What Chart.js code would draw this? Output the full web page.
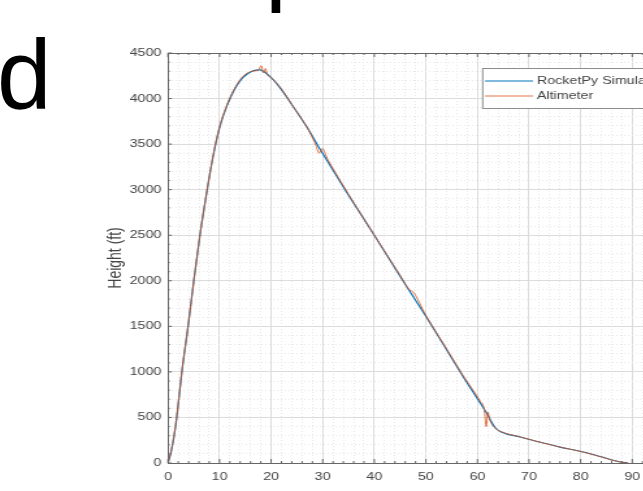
<!DOCTYPE html>
<html>
<head>
<meta charset="utf-8">
<script src="https://cdn.jsdelivr.net/npm/chart.js@4.4.1/dist/chart.umd.min.js"></script>
<style>
  html, body { margin: 0; padding: 0; width: 643px; height: 491px; overflow: hidden; background: #fff; }
  .big { position: absolute; font-family: "Liberation Sans", Arial, sans-serif; font-size: 98px; line-height: 1; color: #000; }
  #wrap { position: absolute; left: 0; top: 0; width: 560px; height: 491px; transform: scaleX(1.3); transform-origin: 0 0; filter: blur(0.55px); }
</style>
</head>
<body>
<div class="big" style="left:-3px; top:25px;">d</div>
<div class="big" style="left:265px; top:-90px;">p</div>
<div id="wrap"><canvas id="chart" width="560" height="491"></canvas></div>
<script>
// data (time in s, height in ft)
const simTime   = [0, 0.6, 1.2, 1.7, 2.7, 3.9, 5.0, 6.2, 7.6, 8.7, 10.0, 11.5, 13.0, 14.5, 16.3, 17.8, 19.8, 21.7, 24.3, 26.9, 29.1, 35, 40, 45, 50, 54.7, 57.2, 61.8, 63.4, 64.6, 68.3, 72, 76, 80.5, 84, 87.7, 89.2];
const simHeight = [0, 120, 300, 500, 1000, 1500, 2000, 2500, 3000, 3350, 3680, 3930, 4110, 4230, 4300, 4315, 4240, 4120, 3910, 3690, 3480, 2940, 2500, 2050, 1610, 1180, 950, 545, 390, 340, 285, 230, 175, 121, 68, 11, 0];

const altTime   = [0, 0.6, 1.2, 1.7, 2.7, 3.9, 5.0, 6.2, 7.6, 8.7, 10.0, 11.5, 13.0, 14.5, 16.3, 17.5, 18.1, 18.5, 18.9, 19.3, 20.0, 21.8, 24.4, 26.8, 28.6, 29.3, 29.9, 31, 35, 40, 45, 46.8, 47.5, 50, 54.7, 57.2, 60.5, 61.3, 61.7, 62.0, 62.4, 63.5, 64.8, 68.3, 72, 76, 80.5, 84, 87.7, 89.2];
const altHeight = [0, 130, 310, 510, 1010, 1500, 1990, 2500, 3000, 3360, 3690, 3940, 4120, 4240, 4300, 4310, 4360, 4280, 4330, 4260, 4230, 4120, 3900, 3700, 3500, 3400, 3450, 3330, 2950, 2500, 2060, 1900, 1880, 1620, 1190, 960, 680, 590, 400, 560, 470, 380, 340, 286, 230, 174, 120, 66, 10, 0];

const xTicks = [0, 10, 20, 30, 40, 50, 60, 70, 80, 90, 100];
const yTicks = [0, 500, 1000, 1500, 2000, 2500, 3000, 3500, 4000, 4500];
const xMinorTicks = [];
for (let i = 0; i <= 100; i += 2) xMinorTicks.push(i);
const yMinorTicks = [];
for (let i = 0; i <= 4500; i += 100) yMinorTicks.push(i);

const seriesLabels = ['RocketPy Simulation', 'Altimeter'];

const font = "'Liberation Sans', Arial, sans-serif";
const axisColor = '#666';
const textColor = '#444';

function toPoints(xs, ys) {
    return xs.map((x, i) => ({ x: x, y: ys[i] }));
}

// matlab-like inward tick marks and top box line
const boxTicks = {
    id: 'boxTicks',
    afterDraw(chart) {
        const { ctx, chartArea: a, scales } = chart;
        ctx.save();
        ctx.strokeStyle = axisColor;
        ctx.lineWidth = 1;
        ctx.beginPath();
        ctx.moveTo(a.left, a.top + 0.5);
        ctx.lineTo(a.right, a.top + 0.5);
        scales.xMinor.ticks.forEach(t => {
            const px = scales.xMinor.getPixelForValue(t.value);
            const len = t.value % 10 === 0 ? 4 : 2;
            ctx.moveTo(px, a.bottom);
            ctx.lineTo(px, a.bottom - len);
            ctx.moveTo(px, a.top);
            ctx.lineTo(px, a.top + len);
        });
        scales.yMinor.ticks.forEach(t => {
            const py = scales.yMinor.getPixelForValue(t.value);
            const len = t.value % 500 === 0 ? 3 : 1.5;
            ctx.moveTo(a.left, py);
            ctx.lineTo(a.left + len, py);
        });
        ctx.stroke();
        ctx.restore();
    }
};

// boxed legend inside the axes, top right
const boxLegend = {
    id: 'boxLegend',
    afterDraw(chart) {
        const { ctx, chartArea: a } = chart;
        const x0 = a.left + 241.6;
        const y0 = 68;
        ctx.save();
        ctx.fillStyle = '#fff';
        ctx.fillRect(x0, y0, 200, 40);
        ctx.strokeStyle = '#8c8c8c';
        ctx.lineWidth = 1;
        ctx.strokeRect(x0 + 0.5, y0 + 0.5, 200, 40);
        ctx.font = '11px ' + font;
        ctx.textBaseline = 'middle';
        chart.data.datasets.forEach((ds, i) => {
            const y = y0 + 13 + i * 15;
            ctx.strokeStyle = ds.borderColor;
            ctx.lineWidth = 1;
            ctx.beginPath();
            ctx.moveTo(x0 + 2.3, y);
            ctx.lineTo(x0 + 39.2, y);
            ctx.stroke();
            ctx.fillStyle = textColor;
            ctx.fillText(ds.label, x0 + 42.2, y);
        });
        ctx.restore();
    }
};

new Chart('chart', {
    type: 'line',
    data: {
        datasets: [
            {
                label: seriesLabels[0],
                data: toPoints(simTime, simHeight),
                borderColor: '#0072BD',
                borderWidth: 1.2,
                pointRadius: 0,
                cubicInterpolationMode: 'monotone',
                fill: false,
                order: 1
            },
            {
                label: seriesLabels[1],
                data: toPoints(altTime, altHeight),
                borderColor: 'rgba(217, 83, 25, 0.8)',
                borderWidth: 1,
                pointRadius: 0,
                cubicInterpolationMode: 'monotone',
                fill: false,
                order: 0
            }
        ]
    },
    options: {
        responsive: false,
        animation: false,
        devicePixelRatio: 1,
        layout: { padding: { left: 76.5, top: 53, right: 34, bottom: 0 } },
        plugins: {
            legend: { display: false },
            tooltip: { enabled: false }
        },
        scales: {
            x: {
                type: 'linear',
                position: 'bottom',
                min: 0,
                max: 100,
                afterBuildTicks: s => { s.ticks = xTicks.map(v => ({ value: v })); },
                afterFit: s => { s.height = 28; },
                grid: { color: '#dcdcdc', drawTicks: false },
                border: { color: axisColor },
                ticks: { padding: 7, color: textColor, font: { family: font, size: 11 }, maxRotation: 0, autoSkip: false, callback: v => String(v) }
            },
            xMinor: {
                type: 'linear',
                position: 'bottom',
                min: 0,
                max: 100,
                afterBuildTicks: s => { s.ticks = xMinorTicks.map(v => ({ value: v })); },
                afterFit: s => { s.height = 0; },
                grid: { color: c => c.tick && c.tick.value % 10 === 0 ? 'rgba(0,0,0,0)' : '#e8e8e8', drawTicks: false },
                border: { display: false, dash: [1, 2] },
                ticks: { display: false }
            },
            y: {
                type: 'linear',
                position: 'left',
                min: 0,
                max: 4500,
                afterBuildTicks: s => { s.ticks = yTicks.map(v => ({ value: v })); },
                afterFit: s => { s.width = 52.7; },
                grid: { color: '#dcdcdc', drawTicks: false },
                border: { color: axisColor },
                title: { display: true, text: 'Height (ft)', color: textColor, font: { family: font, size: 14 }, padding: { top: 4, bottom: 4 } },
                ticks: { padding: 5, color: textColor, font: { family: font, size: 11 }, autoSkip: false, callback: v => String(v) }
            },
            yMinor: {
                type: 'linear',
                position: 'left',
                min: 0,
                max: 4500,
                afterBuildTicks: s => { s.ticks = yMinorTicks.map(v => ({ value: v })); },
                afterFit: s => { s.width = 0; },
                grid: { color: c => c.tick && c.tick.value % 500 === 0 ? 'rgba(0,0,0,0)' : '#e8e8e8', drawTicks: false },
                border: { display: false, dash: [1, 2] },
                ticks: { display: false }
            }
        }
    },
    plugins: [boxTicks, boxLegend]
});
</script>
</body>
</html>
